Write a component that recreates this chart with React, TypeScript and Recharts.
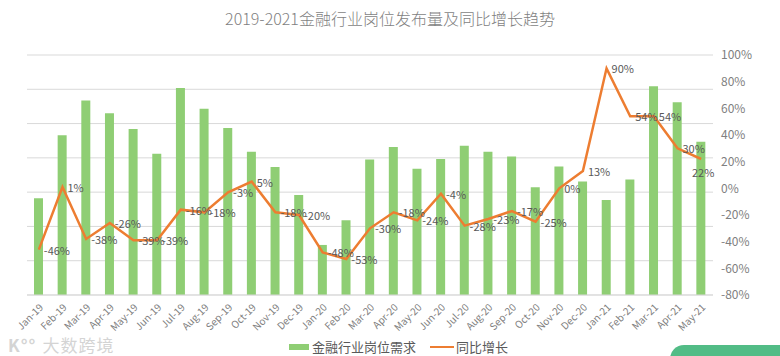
import { ComposedChart, Bar, Line, XAxis, YAxis, CartesianGrid, Legend, LabelList } from "recharts";

const months = [
  "Jan-19", "Feb-19", "Mar-19", "Apr-19", "May-19", "Jun-19", "Jul-19", "Aug-19", "Sep-19", "Oct-19",
  "Nov-19", "Dec-19", "Jan-20", "Feb-20", "Mar-20", "Apr-20", "May-20", "Jun-20", "Jul-20", "Aug-20",
  "Sep-20", "Oct-20", "Nov-20", "Dec-20", "Jan-21", "Feb-21", "Mar-21", "Apr-21", "May-21"
];

// job posting demand (bars, hidden axis)
const demand = [
  2820, 4660, 5670, 5300, 4840, 4120, 6040, 5430, 4870, 4180,
  3730, 2920, 1460, 2180, 3950, 4320, 3680, 3970, 4350, 4180,
  4040, 3140, 3750, 3310, 2770, 3370, 6090, 5620, 4470
];

// year-on-year growth, %
const growth = [
  -46, 1, -38, -26, -39, -39, -16, -18, -3, 5,
  -18, -20, -48, -53, -30, -18, -24, -4, -28, -23,
  -17, -25, 0, 13, 90, 54, 54, 30, 22
];

const demandTicks = [0, 1000, 2000, 3000, 4000, 5000, 6000, 7000];
const growthTicks = [-80, -60, -40, -20, 0, 20, 40, 60, 80, 100];

const data = months.map((m, i) => ({ month: m, demand: demand[i], growth: growth[i] }));

const font = '"Noto Sans CJK SC", "Noto Sans", sans-serif';

// labels sit right of the point, the last one goes below
const GrowthLabel = (props: any) => {
  const { x, y, value, index } = props;
  const last = index === growth.length - 1;
  return (
    <text
      x={last ? x + 2 : x + 5}
      y={last ? y + 13 : y}
      textAnchor={last ? "middle" : "start"}
      dominantBaseline="central"
      fontSize={11}
      fill="#595959"
      fontFamily={font}
    >
      {`${value}%`}
    </text>
  );
};

export default function App() {
  return (
    <div style={{ position: "absolute", left: 0, top: 0, width: 780, height: 356, background: "#fff", fontFamily: font, overflow: "hidden" }}>
      <div style={{ position: "absolute", top: 6, left: 0, width: 780, textAlign: "center", fontSize: 16, color: "#7f7f7f", fontWeight: 300 }}>
        2019-2021金融行业岗位发布量及同比增长趋势
      </div>
      <ComposedChart
        width={780}
        height={356}
        data={data}
        barSize={9}
        margin={{ top: 55, right: 0, left: 27, bottom: 0 }}
      >
        <CartesianGrid vertical={false} yAxisId="left" stroke="#d9d9d9" />
        <XAxis
          dataKey="month"
          interval={0}
          height={45}
          tickLine={false}
          axisLine={{ stroke: "#d9d9d9" }}
          angle={-45}
          textAnchor="end"
          tick={{ fontSize: 10, fill: "#808080", fontFamily: font }}
        />
        <YAxis yAxisId="left" hide domain={[0, 7000]} ticks={demandTicks} />
        <YAxis
          yAxisId="right"
          orientation="right"
          width={67}
          domain={[-80, 100]}
          ticks={growthTicks}
          tickFormatter={(v) => `${v}%`}
          axisLine={false}
          tickLine={false}
          tick={{ fontSize: 12, fill: "#808080", fontFamily: font }}
        />
        <Legend
          verticalAlign="bottom"
          align="center"
          content={() => (
            <div style={{ display: "flex", justifyContent: "center", alignItems: "center", gap: 14, fontSize: 13, color: "#595959", marginLeft: -10, marginTop: -3 }}>
              <span style={{ display: "flex", alignItems: "center" }}>
                <span style={{ display: "inline-block", width: 20, height: 6, background: "#8fce74", marginRight: 3 }} />
                金融行业岗位需求
              </span>
              <span style={{ display: "flex", alignItems: "center" }}>
                <span style={{ display: "inline-block", width: 24, height: 2, background: "#ED7D31", marginRight: 2 }} />
                同比增长
              </span>
            </div>
          )}
        />
        <Bar yAxisId="left" dataKey="demand" name="金融行业岗位需求" fill="#8fce74" isAnimationActive={false} />
        <Line
          yAxisId="right"
          dataKey="growth"
          name="同比增长"
          type="linear"
          stroke="#ED7D31"
          strokeWidth={2.5}
          dot={false}
          isAnimationActive={false}
        >
          <LabelList dataKey="growth" content={GrowthLabel} />
        </Line>
      </ComposedChart>
      <div style={{ position: "absolute", left: 8, top: 332, fontSize: 17, color: "#d4d4d4", letterSpacing: 1 }}>
        <span style={{ fontWeight: 700, marginRight: 6 }}>K°°</span>大数跨境
      </div>
      <div style={{ position: "absolute", left: 670, top: 345, width: 130, height: 34, borderRadius: 14, background: "#52bc86" }} />
    </div>
  );
}
